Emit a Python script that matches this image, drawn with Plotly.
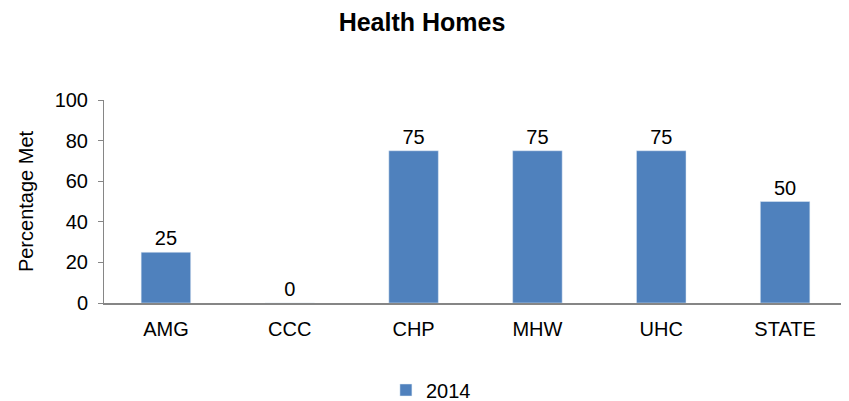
import plotly.graph_objects as go

categories = ["AMG", "CCC", "CHP", "MHW", "UHC", "STATE"]
values_2014 = [25, 0, 75, 75, 75, 50]
series_name = "2014"
y_ticks = [0, 20, 40, 60, 80, 100]

font = "Liberation Sans, Arial, sans-serif"
H = 414

fig = go.Figure()
fig.add_trace(go.Bar(
    x=categories, y=values_2014, name=series_name,
    marker=dict(color="#4F81BD"),
    text=[str(v) for v in values_2014], textposition="outside",
    textfont=dict(size=20, color="black", family=font),
    cliponaxis=False,
))

fig.update_layout(
    width=849, height=H,
    margin=dict(l=96, r=10, t=92, b=H - 295),
    paper_bgcolor="white", plot_bgcolor="white",
    font=dict(family=font, size=20, color="black"),
    title=dict(text="<b>Health Homes</b>", x=(422 - 8) / 849, xanchor="center",
               y=1 - 14/H, yanchor="middle", font=dict(size=25, family=font)),
    bargap=0.6,
    showlegend=True,
    legend=dict(orientation="h", x=0.44, xanchor="center", y=-0.4286, yanchor="middle",
                font=dict(size=20, family=font)),
    xaxis=dict(showline=True, linecolor="#868686", linewidth=2, ticks="",
               showgrid=False, tickfont=dict(size=20), automargin=False,
               ticklabelstandoff=7),
    yaxis=dict(range=[0, 100], tickvals=y_ticks, showline=True, linecolor="#868686",
               linewidth=1, ticks="outside", ticklen=5, tickcolor="#868686",
               showgrid=False, zeroline=False, automargin=False,
               ticklabelstandoff=6,
               title=dict(text="Percentage Met", font=dict(size=20), standoff=15),
               tickfont=dict(size=20)),
)

fig.write_html("out.html")
